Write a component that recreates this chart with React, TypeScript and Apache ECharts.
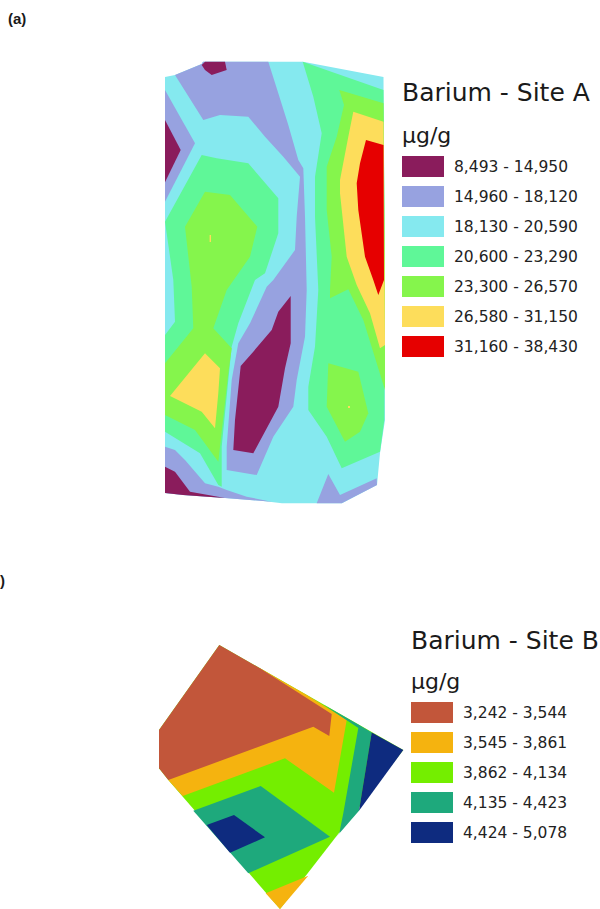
import React, { useEffect, useRef } from "react";
import * as echarts from "echarts";

type Pt = [number, number];

const siteALabels = ["8,493 - 14,950", "14,960 - 18,120", "18,130 - 20,590", "20,600 - 23,290", "23,300 - 26,570", "26,580 - 31,150", "31,160 - 38,430"];
const siteAColors = ["#8A1C5C", "#97A2E0", "#85E9EF", "#5FF798", "#85F54C", "#FDDD5B", "#E60000"];
const siteALayerOrder = [2, 1, 3, 4, 5, 6, 0];

const siteBLabels = ["3,242 - 3,544", "3,545 - 3,861", "3,862 - 4,134", "4,135 - 4,423", "4,424 - 5,078"];
const siteBColors = ["#C2563A", "#F5B30F", "#74EE00", "#1EA97C", "#0E2B7F"];
const siteBLayerOrder = [2, 1, 0, 3, 4];

// contour polygons per class, in map units
const siteAClass0: Pt[][] = [
  [[205, 61.7], [225, 61.7], [226.7, 70], [211.7, 75], [205, 70], [201.7, 65]],
  [[165, 120], [180.7, 150], [165, 182.3]],
  [[290.7, 296], [290.7, 343.3], [285, 368.3], [278.3, 406.7], [253.3, 453.3], [233.3, 450], [235, 420], [240.7, 366], [253.3, 351.7], [271.7, 330], [278.3, 311.7]],
  [[165, 466.7], [175, 471.7], [190, 491.7], [218, 496.7], [225, 498], [183, 495], [165, 493]],
];
const siteAClass1: Pt[][] = [
  [[175, 75], [201.7, 64], [203, 61.7], [268.3, 61.7], [278.3, 93.3], [288.3, 125], [298.3, 160], [303.3, 168.3], [305, 216.7], [306.7, 290], [305, 336.7], [296.7, 380], [293.3, 406.7], [273.3, 436.7], [256.7, 475], [226.7, 470], [226.7, 446.7], [231.7, 380], [238.3, 343.3], [250, 323.3], [266.7, 286.7], [273.3, 280], [295, 250], [296.7, 216.7], [300, 176.7], [283.3, 156.7], [265, 136.7], [248.3, 116.7], [220, 115], [203.3, 120]],
  [[165, 90], [195, 143.3], [165, 201.7]],
  [[165, 446.7], [175, 450], [185, 460], [205, 483.3], [218.3, 486.7], [226.7, 490], [246.7, 496.7], [271.7, 501.7], [263, 501], [225, 498], [183, 495], [165, 493]],
  [[328.3, 474], [340, 495], [376.7, 478.3], [377, 485], [341.7, 503.3], [316.7, 503.3]],
];
const siteAClass2: Pt[][] = [
  [[165, 77], [175, 75], [201.7, 64], [203, 61.7], [303, 61.7], [383.5, 77], [385, 420], [380, 453], [377, 485], [342, 503.3], [282, 503.3], [263, 501], [225, 498], [183, 495], [165, 493]],
];
const siteAClass3: Pt[][] = [
  [[302.7, 61.7], [383.5, 90], [385, 280], [384.3, 420], [380, 451.7], [341.7, 468.3], [326.7, 436.7], [308.3, 410], [308.3, 386.7], [315, 346.7], [318.3, 290], [315, 216.7], [315, 176.7], [321.7, 133.3], [313.3, 96.7]],
  [[201.7, 155], [216.7, 158.3], [248.3, 163.3], [278.3, 198.3], [278.3, 233.3], [265, 273.3], [255, 280], [238.3, 323.3], [231.7, 346.7], [228.3, 380], [221.7, 446.7], [221.7, 486.7], [218.3, 485], [200, 453.3], [165, 431.7], [165, 335], [175, 321.7], [173.3, 280], [170, 256.7], [165, 221.7]],
];
const siteAClass4: Pt[][] = [
  [[339.3, 90], [383.5, 103.3], [385, 280], [385, 390], [363.3, 320], [348.3, 289.3], [330, 298.3], [330, 290], [331.7, 256.7], [326.7, 210], [326.7, 166.7], [336.7, 136.7], [344, 105]],
  [[205, 191.7], [230, 195], [257.3, 226.7], [250, 256.7], [226.7, 290], [213.3, 328.3], [231.7, 348.3], [228.3, 373.3], [218.3, 461.7], [195, 430], [165, 415], [165, 363.3], [193.3, 328.3], [191.7, 286.7], [185, 226.7]],
  [[328.3, 363.3], [358.3, 371.7], [368.3, 413.3], [360, 431.7], [345, 441.7], [326.7, 406.7]],
];
const siteAClass5: Pt[][] = [
  [[353.3, 111.7], [383.5, 121.7], [385, 345], [380, 348.3], [370, 313.3], [356.7, 285], [346.7, 256.7], [340, 193.3], [340, 180], [348.3, 136.7]],
  [[205, 353.3], [220, 368.3], [218.3, 393.3], [215, 428.3], [201.7, 411.7], [170, 396]],
  [[209.6, 235], [211, 235], [211, 242], [209.6, 242]],
  [[348, 406], [350, 406], [350, 408], [348, 408]],
];
const siteAClass6: Pt[][] = [
  [[366, 140], [383.5, 145], [384, 280], [378.3, 295], [373.3, 280], [365, 256.7], [358.3, 210], [356.7, 183.3], [360, 163.3]],
];
const siteARegions = [siteAClass0, siteAClass1, siteAClass2, siteAClass3, siteAClass4, siteAClass5, siteAClass6];

const siteBClass0: Pt[][] = [
  [[219.3, 645], [260, 668.3], [331.7, 714], [329.3, 736], [313.3, 726.7], [168.3, 780], [159, 768.3], [159, 730]],
];
const siteBClass1: Pt[][] = [
  [[260, 668.3], [306.7, 695], [346.7, 720], [334, 792.7], [285, 758.3], [182.7, 796], [168.3, 780]],
  [[308.3, 875.7], [280, 909], [265.7, 893.3]],
];
const siteBClass2: Pt[][] = [
  [[219.3, 645], [403.3, 750], [280, 909], [168.3, 780], [159, 768.3], [159, 730]],
];
const siteBClass3: Pt[][] = [
  [[323.3, 704.5], [358.3, 724.5], [371.7, 732.5], [359, 810.7], [336, 837.3], [339.3, 833.3], [343.3, 813.3], [358.3, 728]],
  [[260.7, 786], [330, 836.7], [248.3, 873.3], [193.3, 810.7]],
];
const siteBClass4: Pt[][] = [
  [[371.7, 732.5], [403.3, 750], [359, 810.7]],
  [[234, 815], [265, 837.3], [230, 852.7], [206.7, 825]],
];
const siteBRegions = [siteBClass0, siteBClass1, siteBClass2, siteBClass3, siteBClass4];

const FONT = "DejaVu Sans";

function regionSeries(name: string, color: string, rings: Pt[][], axis: number, z: number) {
  return {
    type: "custom",
    name,
    coordinateSystem: "cartesian2d",
    xAxisIndex: axis,
    yAxisIndex: axis,
    z,
    silent: true,
    clip: false,
    itemStyle: { color },
    data: rings.map((r) => r[0]),
    renderItem: (params: any, api: any) => ({
      type: "polygon",
      shape: { points: rings[params.dataIndex].map((p) => api.coord(p)) },
      style: { fill: color },
    }),
  };
}

function heading(text: string, left: number, top: number, fontSize: number, fontWeight = "normal", fontFamily = FONT) {
  return { text, left, top, padding: 0, textStyle: { fontSize, fontWeight, fontFamily, color: "#1a1a1a" } };
}

function hiddenAxis(min: number, max: number, gridIndex: number, inverse = false) {
  return { type: "value", show: false, min, max, gridIndex, inverse, scale: true };
}

export default function App() {
  const ref = useRef<HTMLDivElement>(null);
  useEffect(() => {
    const chart = echarts.init(ref.current!, undefined, { renderer: "svg" });
    const legendBase = {
      orient: "vertical",
      icon: "rect",
      itemWidth: 42,
      itemHeight: 21,
      itemGap: 9,
      padding: 0,
      selectedMode: false,
      textStyle: { fontFamily: FONT, fontSize: 15.5, color: "#222", padding: [1, 0, 0, 5] },
    };
    chart.setOption({
      animation: false,
      backgroundColor: "#fff",
      title: [
        heading("(a)", 8, 11, 15, "bold", "Liberation Sans"),
        heading(")", 0, 573, 15, "bold", "Liberation Sans"),
        heading("Barium - Site A", 402, 80, 25),
        heading("µg/g", 402, 124, 22),
        heading("Barium - Site B", 411, 628, 25),
        heading("µg/g", 411, 670, 22),
      ],
      grid: [
        { left: 155, top: 50, width: 240, height: 465 },
        { left: 155, top: 640, width: 250, height: 269 },
      ],
      xAxis: [hiddenAxis(155, 395, 0), hiddenAxis(155, 405, 1)],
      yAxis: [hiddenAxis(50, 515, 0, true), hiddenAxis(640, 909, 1, true)],
      legend: [
        { ...legendBase, left: 402, top: 156, data: siteALabels },
        { ...legendBase, left: 411, top: 702, data: siteBLabels },
      ],
      series: [
        ...siteALabels.map((name, i) => regionSeries(name, siteAColors[i], siteARegions[i], 0, 2 + siteALayerOrder.indexOf(i))),
        ...siteBLabels.map((name, i) => regionSeries(name, siteBColors[i], siteBRegions[i], 1, 2 + siteBLayerOrder.indexOf(i))),
      ],
    });
    return () => chart.dispose();
  }, []);
  return <div ref={ref} style={{ position: "absolute", left: 0, top: 0, width: 600, height: 909 }} />;
}
